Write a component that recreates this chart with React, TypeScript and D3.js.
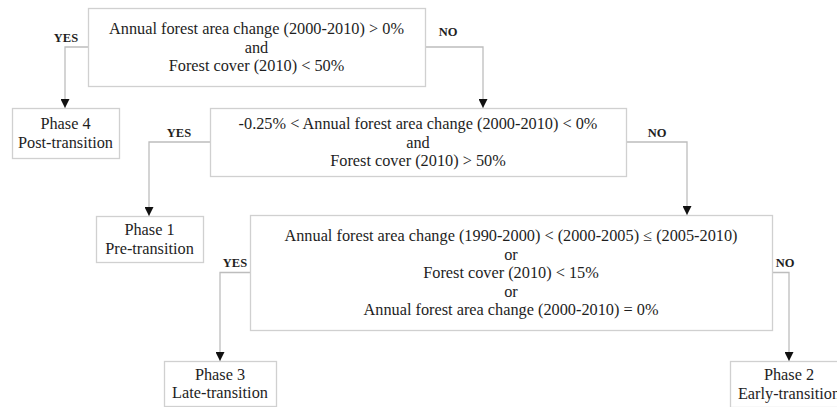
import React, { useRef, useEffect } from 'react';
import * as d3 from 'd3';

// Decision box texts (top to bottom)
const decisionTexts: string[][] = [
  ['Annual forest area change (2000-2010) > 0%', 'and', 'Forest cover (2010) < 50%'],
  ['-0.25% < Annual forest area change (2000-2010) < 0%', 'and', 'Forest cover (2010) > 50%'],
  [
    'Annual forest area change (1990-2000) < (2000-2005) \u2264 (2005-2010)',
    'or',
    'Forest cover (2010) < 15%',
    'or',
    'Annual forest area change (2000-2010) = 0%',
  ],
];

// Outcome boxes
const phaseNames = ['Phase 4', 'Phase 1', 'Phase 3', 'Phase 2'];
const phaseStages = ['Post-transition', 'Pre-transition', 'Late-transition', 'Early-transition'];

// Branches: decision index -> target (decision or phase)
const branchLabels = ['YES', 'NO', 'YES', 'NO', 'YES', 'NO'];
const branchFrom = [0, 0, 1, 1, 2, 2];
const branchTo = ['phase:0', 'decision:1', 'phase:1', 'decision:2', 'phase:2', 'phase:3'];

// Layout (pixel positions of the diagram)
const decisionLayout = [
  { x: 88, y: 8, w: 337, h: 78 },
  { x: 210, y: 108, w: 416, h: 68 },
  { x: 250, y: 215, w: 522, h: 115 },
];
const phaseLayout = [
  { x: 12, y: 108, w: 107, h: 50 },
  { x: 96, y: 216, w: 107, h: 46 },
  { x: 164, y: 361, w: 112, h: 45 },
  { x: 730, y: 361, w: 118, h: 46 },
];
// x of the vertical drop, x centre of the label and its lift above the line
const branchDropX = [65, 483, 149, 687, 220, 789];
const branchLabelX = [66, 448, 179, 657, 235, 785];
const branchLabelLift = [5, 11, 5, 5, 6, 6];

const App: React.FC = () => {
  const svgRef = useRef<SVGSVGElement>(null);
  const width = 837;
  const height = 407;

  useEffect(() => {
    if (!svgRef.current) return;
    const svg = d3.select(svgRef.current);
    svg.selectAll('*').remove();

    const boxStroke = '#d0d0d0';
    const lineStroke = '#bdbdbd';
    const textColor = '#1e1e1e';
    const font = '"Liberation Serif", "Times New Roman", serif';
    const fontSize = 16.3;
    const lineH = 18.5;

    // Arrow head marker
    svg
      .append('defs')
      .append('marker')
      .attr('id', 'arrow')
      .attr('viewBox', '0 0 10 10')
      .attr('refX', 10)
      .attr('refY', 5)
      .attr('markerWidth', 9)
      .attr('markerHeight', 9)
      .attr('markerUnits', 'userSpaceOnUse')
      .attr('orient', 'auto')
      .append('path')
      .attr('d', 'M0,0 L10,5 L0,10 Z')
      .attr('fill', '#111');

    const targetBox = (t: string) => {
      const [kind, idx] = t.split(':');
      return kind === 'phase' ? phaseLayout[+idx] : decisionLayout[+idx];
    };

    // Connectors
    const line = d3.line<[number, number]>();
    branchFrom.forEach((from, i) => {
      const src = decisionLayout[from];
      const tgt = targetBox(branchTo[i]);
      const isYes = branchLabels[i] === 'YES';
      const sx = isYes ? src.x : src.x + src.w;
      const sy = src.y + src.h / 2;
      const dx = branchDropX[i];
      svg
        .append('path')
        .attr('d', line([[sx, sy], [dx, sy], [dx, tgt.y]]))
        .attr('fill', 'none')
        .attr('stroke', lineStroke)
        .attr('stroke-width', 1.3)
        .attr('marker-end', 'url(#arrow)');

      svg
        .append('text')
        .attr('x', branchLabelX[i])
        .attr('y', sy - branchLabelLift[i])
        .attr('text-anchor', 'middle')
        .attr('font-family', font)
        .attr('font-weight', 'bold')
        .attr('font-size', 12.5)
        .attr('fill', textColor)
        .text(branchLabels[i]);
    });

    const drawBox = (b: { x: number; y: number; w: number; h: number }, lines: string[]) => {
      const g = svg.append('g');
      g.append('rect')
        .attr('x', b.x + 0.5)
        .attr('y', b.y + 0.5)
        .attr('width', b.w)
        .attr('height', b.h)
        .attr('fill', 'white')
        .attr('stroke', boxStroke)
        .attr('stroke-width', 1.3);
      const cy = b.y + b.h / 2;
      const y0 = cy - ((lines.length - 1) * lineH) / 2;
      g.selectAll('text')
        .data(lines)
        .enter()
        .append('text')
        .attr('x', b.x + b.w / 2)
        .attr('y', (d, j) => y0 + j * lineH)
        .attr('dy', '0.35em')
        .attr('text-anchor', 'middle')
        .attr('font-family', font)
        .attr('font-size', fontSize)
        .attr('fill', textColor)
        .text((d) => d);
    };

    // Decision boxes
    decisionTexts.forEach((lines, i) => drawBox(decisionLayout[i], lines));

    // Phase boxes
    phaseNames.forEach((name, i) => drawBox(phaseLayout[i], [name, phaseStages[i]]));
  }, []);

  return (
    <svg
      ref={svgRef}
      width={width}
      height={height}
      style={{ position: 'absolute', left: 0, top: 0, background: 'white' }}
    />
  );
};

export default App;
